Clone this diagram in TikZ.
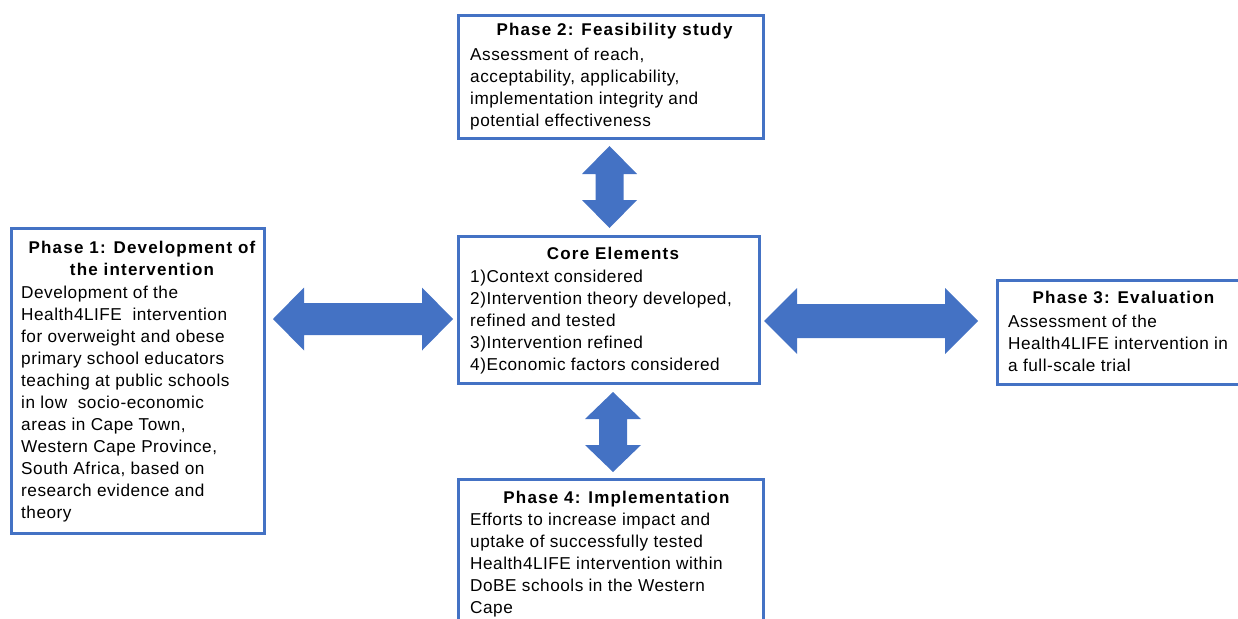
\documentclass[tikz,border=0pt]{standalone}
\usepackage{fontspec}
\setmainfont{Liberation Sans}
\newfontfamily\titlefont[LetterSpace=7]{Liberation Sans}
\newfontfamily\bodyfont[LetterSpace=3]{Liberation Sans}
\usetikzlibrary{calc}
\definecolor{phaseblue}{HTML}{4472C4}

% Double-headed block arrow: centre, rotation, half length, head length,
% head half-width, shaft half-width
\newcommand\blockarrow[6]{%
  \fill[phaseblue, shift={(#1)}, rotate=#2]
    ({-#3},0) -- ({-#3+#4},{-#5}) -- ({-#3+#4},{-#6}) -- ({#3-#4},{-#6})
    -- ({#3-#4},{-#5}) -- ({#3},0) -- ({#3-#4},{#5}) -- ({#3-#4},{#6})
    -- ({-#3+#4},{#6}) -- ({-#3+#4},{#5}) -- cycle;}

\begin{document}
\begin{tikzpicture}[x=1pt,y=-1pt,
  box/.style={draw=phaseblue, line width=2.6pt, anchor=north west, inner sep=0pt},
  title/.style={font=\titlefont\fontsize{17}{22}\selectfont\bfseries, inner sep=0pt, align=center},
  body/.style={font=\bodyfont\fontsize{17.2}{22}\selectfont, anchor=north west, inner sep=0pt, align=left}]
\useasboundingbox (0,0) rectangle (1238,618);
\clip (0,0) rectangle (1238,618);

% phase boxes
\node[box, minimum width=305pt, minimum height=123pt] (p2) at (457,14) {};
\node[box, minimum width=301pt, minimum height=147pt] (core) at (457,235) {};
\node[box, minimum width=253pt, minimum height=305pt] (p1) at (10,227) {};
\node[box, minimum width=250pt, minimum height=104pt] (p3) at (996,279) {};
\node[box, minimum width=305pt, minimum height=160pt] (p4) at (457,478) {};

% titles
\node[title, anchor=base] (p2t) at (614.5,36) {Phase 2: Feasibility study};
\node[title, anchor=north] (p1t) at (142,240.7) {Phase 1: Development of\\the intervention};
\node[title, anchor=base] (coret) at (613,259) {Core Elements};
\node[title, anchor=base] (p3t) at (1123.5,303) {Phase 3: Evaluation};
\node[title, anchor=base] (p4t) at (616.5,503) {Phase 4: Implementation};

% descriptions
\node[body] (p2b) at (470,47.7) {Assessment of reach,\\acceptability, applicability,\\implementation integrity and\\potential effectiveness};
\node[body] (p1b) at (21,285.7) {Development of the\\Health4LIFE\ \ intervention\\for overweight and obese\\primary school educators\\teaching at public schools\\in low\ \ socio-economic\\areas in Cape Town,\\Western Cape Province,\\South Africa, based on\\research evidence and\\theory};
\node[body] (coreb) at (470,269.7) {1)Context considered\\2)Intervention theory developed,\\refined and tested\\3)Intervention refined\\4)Economic factors considered};
\node[body] (p3b) at (1008,314.7) {Assessment of the\\Health4LIFE intervention in\\a full-scale trial};
\node[body] (p4b) at (470,512.7) {Efforts to increase impact and\\uptake of successfully tested\\Health4LIFE intervention within\\DoBE schools in the Western\\Cape};

% connecting arrows between the phases and the core
\coordinate (a2) at (609.5,187);
\coordinate (a4) at (613,432);
\coordinate (a1) at (363,319);
\coordinate (a3) at (871,321);
\blockarrow{a2}{90}{41}{28}{27.5}{14}
\blockarrow{a4}{90}{40}{27}{28}{14}
\blockarrow{a1}{0}{90}{31}{31.5}{16}
\blockarrow{a3}{0}{107}{33}{33}{17}
\end{tikzpicture}
\end{document}
